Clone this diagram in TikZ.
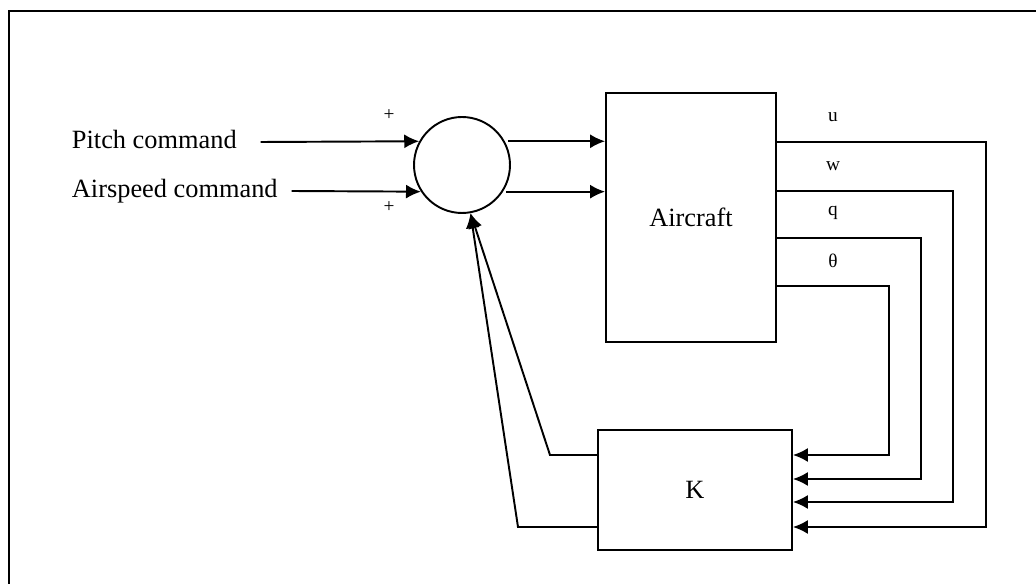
\documentclass[tikz,border=0pt]{standalone}
\usepackage{fontspec}
\setmainfont{Liberation Serif}
\usetikzlibrary{arrows.meta}

\begin{document}
\begin{tikzpicture}[x=0.02cm,y=-0.02cm,>={Latex[length=8.5pt,width=8pt]},
  line width=1.1pt,
  block/.style={rectangle,draw,inner sep=0pt,
  font=\fontsize{15}{18}\selectfont},
  sum node/.style={circle,draw,minimum size=1.92cm,inner sep=0pt},
  in label/.style={anchor=west,inner sep=0pt,text height=0.7em,
  text depth=0pt,font=\fontsize{15}{18}\selectfont},
  sig label/.style={inner sep=0pt,font=\fontsize{11}{13}\selectfont},
  sign/.style={inner sep=0pt,font=\fontsize{11}{13}\selectfont}]

  \useasboundingbox (0,0) rectangle (1036,584);
  % frame (bottom and right edges are cut off)
  \draw (9,584) -- (9,11) -- (1036,11);

  \node[sum node] (sum) at (462,165) {};
  \node[block,minimum width=3.4cm,minimum height=4.98cm] (air) at (691,217.5) {Aircraft};
  \node[block,minimum width=3.88cm,minimum height=2.4cm] (K) at (695,490) {K};

  \node[in label] (pitch) at (71,142) {Pitch command};
  \node[in label] (speed) at (71,191) {Airspeed command};
  \node[sign] (plus1) at (389,115) {+};
  \node[sign] (plus2) at (389,207) {+};

  % commands into the summing junction
  \draw[->] (pitch.east) ++(23,0) -- (sum.151);
  \draw[->] (speed.east) ++(13,0) -- (sum.213);

  % junction to aircraft
  \draw[->] (sum.29) ++(3,0) -- (sum.29 -| air.west);
  \draw[->] (sum.-33) ++(3,0) -- (sum.-33 -| air.west);

  % aircraft outputs fed back into K
  \foreach \lab/\ys/\xt/\ye in {u/142/986/527, w/191/953/502,
                                q/238/921/479, θ/286/889/455}{
    \draw[->] (air.east |- 0,\ys) -- (\xt,\ys) |- (K.east |- 0,\ye);
    \node[sig label] at (833,\ys-25) {\lab};
  }

  % K back to the junction
  \draw[->] (K.west |- 0,455) -- (550,455) -- (sum.-80);
  \draw[->] (K.west |- 0,527) -- (518,527) -- (sum.-80);

\end{tikzpicture}
\end{document}
